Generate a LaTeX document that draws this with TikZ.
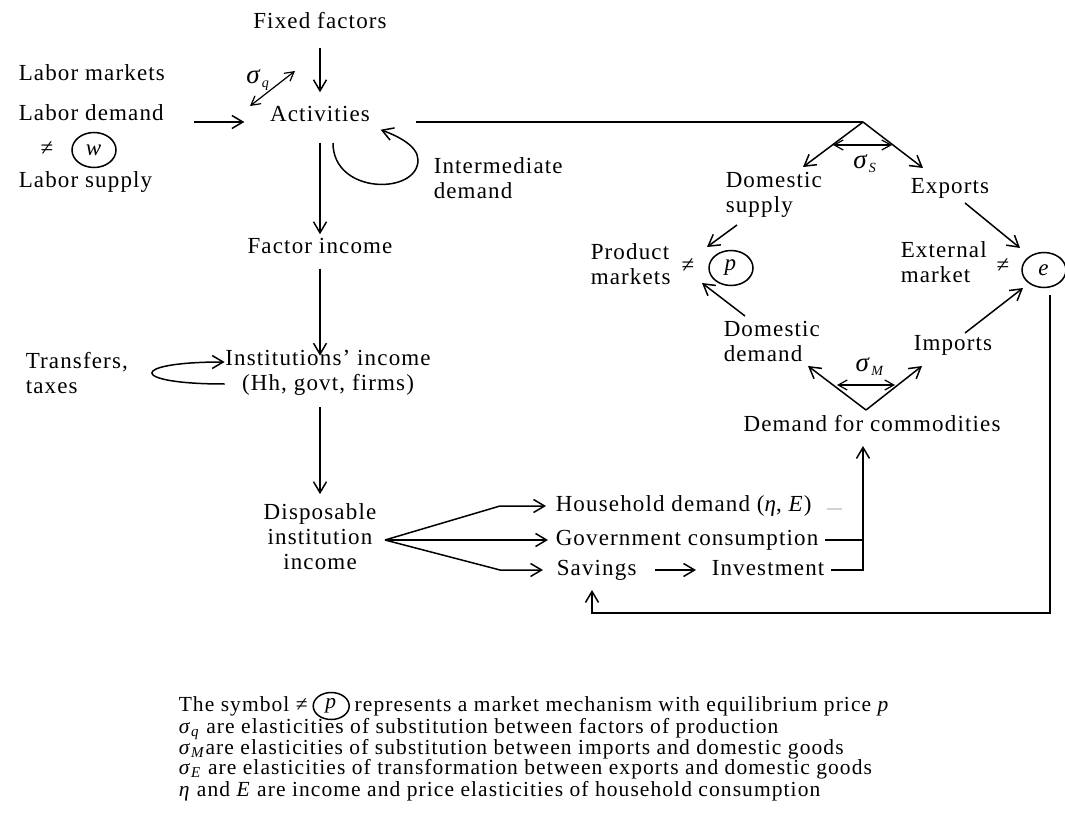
\documentclass[tikz,border=0pt]{standalone}
\usepackage{fontspec}
\setmainfont{Liberation Serif}[LetterSpace=5]
\usetikzlibrary{arrows.meta,positioning,shapes.geometric}

\tikzset{
  lbl/.style={inner sep=0pt, font=\fontsize{23}{25}\selectfont, text height=15.5pt, text depth=4.5pt},
  blk/.style={inner sep=0pt, font=\fontsize{23}{25}\selectfont},
  leg/.style={inner sep=0pt, anchor=west, font=\fontsize{21.5}{21}\selectfont, text height=14pt, text depth=4pt},
  mkt/.style={draw, ellipse, inner sep=0pt, minimum width=44pt, minimum height=35pt, font=\fontsize{23}{25}\selectfont},
  arr/.style={-{Straight Barb[length=11pt,width=13pt]}},
  darr/.style={{Straight Barb[length=9pt,width=10pt]}-{Straight Barb[length=9pt,width=10pt]}}
}
\newcommand\sig{{\fontsize{27}{25}\selectfont\textit{σ}}}
\newcommand\sigsub[1]{\raisebox{-4pt}{\fontsize{14}{14}\selectfont\textit{#1}}}

\begin{document}
\begin{tikzpicture}[x=1pt,y=1pt,yscale=-1,line width=1.5pt]
\useasboundingbox (0,0) rectangle (1065,818);

% Text Node
\node (ff) at (320,23) [lbl] {Fixed factors};
% Text Node
\node (lm) at (18,75) [lbl,anchor=west] {Labor markets};
% Text Node
\node (ld) at (18,115) [lbl,anchor=west] {Labor demand};
% Text Node
\node (neqw) at (47,150) [lbl] {≠};
% Shape: Ellipse
\node (w) at (94,150) [mkt] {\textit{w}};
% Text Node
\node (ls) at (18,182) [lbl,anchor=west] {Labor supply};
% Text Node
\node (act) at (320,116) [lbl] {Activities};
% Text Node
\node (sigq) at (258,78) [lbl] {\sig\sigsub{q}};
% Text Node
\node (interm) at (433,178) [blk,anchor=west,align=left] {Intermediate\\demand};
% Text Node
\node (fi) at (320,248) [lbl] {Factor income};
% Text Node
\node (trans) at (25,373) [blk,anchor=west,align=left] {Transfers,\\taxes};
% Text Node
\node (inst) at (328,373) [blk,align=center] {Institutions’ income\\(Hh, govt, firms)};
% Text Node
\node (disp) at (320,537) [blk,align=center] {Disposable\\institution\\income};
% Text Node
\node (hh) at (555,506) [lbl,anchor=west] {Household demand (\textit{η}, \textit{E})};
% Text Node
\node (gov) at (555,540) [lbl,anchor=west] {Government consumption};
% Text Node
\node (sav) at (556,570) [lbl,anchor=west] {Savings};
% Text Node
\node (inv) at (711,570) [lbl,anchor=west] {Investment};
% Text Node
\node (dfc) at (872,426) [lbl] {Demand for commodities};
% Text Node
\node (dd) at (723,341) [blk,anchor=west,align=left] {Domestic\\demand};
% Text Node
\node (imp) at (913,345) [lbl,anchor=west] {Imports};
% Text Node
\node (sigM) at (870,366) [lbl] {\sig\sigsub{M}};
% Text Node
\node (pm) at (590,264) [blk,anchor=west,align=left] {Product\\markets};
% Text Node
\node (neqp) at (688,267) [lbl] {≠};
% Shape: Ellipse
\node (p) at (731,268) [mkt] {\textit{p}};
% Text Node
\node (ds) at (725,195) [blk,anchor=west,align=left] {Domestic\\supply};
% Text Node
\node (exp) at (910,188) [lbl,anchor=west] {Exports};
% Text Node
\node (sigS) at (865,163) [lbl] {\sig\sigsub{S}};
% Text Node
\node (em) at (900,262) [blk,anchor=west,align=left] {External\\market};
% Text Node
\node (neqe) at (1003,267) [lbl] {≠};
% Shape: Ellipse
\node (e) at (1044,270) [mkt] {\textit{e}};

% free ends of connectors
\coordinate (qa) at (250,106);
\coordinate (qb) at (295,71);
\coordinate (il) at (333,143);
\coordinate (apex) at (863,122);
\coordinate (dsin) at (803,167);
\coordinate (exin) at (923,168);
\coordinate (sl) at (833,145);
\coordinate (sr) at (892,145);
\coordinate (dsA) at (737,225);
\coordinate (dsB) at (707,247);
\coordinate (exA) at (965,203);
\coordinate (exB) at (1020,248);
\coordinate (ddA) at (745,316);
\coordinate (ddB) at (702,283);
\coordinate (imA) at (965,333);
\coordinate (imB) at (1023,288);
\coordinate (vtx) at (866,410);
\coordinate (vl) at (808,366);
\coordinate (vr) at (922,366);
\coordinate (ml) at (837,385);
\coordinate (mr) at (895,385);
\coordinate (fork) at (385,540);
\coordinate (hk) at (500,506);
\coordinate (sk) at (500,570);
\coordinate (uptip) at (863,446);
\coordinate (bl) at (592,613);
\coordinate (savin) at (592,590);

%Straight Lines
\draw[arr,shorten <=14pt,shorten >=13pt] (ff) -- (act);
\draw[arr] ([shift={(30,7)}]ld.east) -- ([shift={(-25,6)}]act.west);
\draw[darr,line width=1.2pt] (qa) -- (qb);
\draw[arr,shorten <=16pt,shorten >=3pt] (act) -- (fi);
%Curve Lines
\draw[arr] (il) .. controls (333,195) and (418,195) .. (418,160) .. controls (418,145) and (395,135) .. ([shift={(10,3)}]act.south east);
%Straight Lines
\draw ([shift={(45,6)}]act.east) -- (apex);
\draw[arr] (apex) -- (dsin);
\draw[arr] (apex) -- (exin);
\draw[darr,line width=1.2pt] (sl) -- (sr);
\draw[arr] (dsA) -- (dsB);
\draw[arr] (exA) -- (exB);
\draw[arr] (ddA) -- (ddB);
\draw[arr] (imA) -- (imB);
\draw[arr] (vtx) -- (vl);
\draw[arr] (vtx) -- (vr);
\draw[darr,line width=1.2pt] (ml) -- (mr);
\draw[arr,shorten <=10pt,shorten >=-6pt] (fi.south) -- (fi.south |- inst.north);
\draw[arr,shorten <=11pt,shorten >=9pt] (fi.south |- inst.south) -- (fi.south |- disp.north);
%Curve Lines
\draw[arr] ([yshift=11pt]inst.west) .. controls (128,384) and (128,362) .. ([yshift=-11pt]inst.west);
%Straight Lines
\draw[arr,shorten >=9pt] (fork) -- (hk) -- (hh.west);
\draw[arr,shorten >=7pt] (fork) -- (gov.west);
\draw[arr,shorten >=13pt] (fork) -- (sk) -- (sav.west);
\draw[arr,shorten <=18pt,shorten >=15pt] (sav.east) -- (inv.west);
\draw[gray!35] ([shift={(15,3)}]hh.east) -- ++(15,0);
\draw ([xshift=6pt]gov.east) -- (gov.east -| uptip);
\draw[arr] ([xshift=6pt]inv.east) -| (uptip);
\draw[arr] ([shift={(6,7)}]e.south) |- (bl) -- (savin);

% Text Node
\node (leg1a) at (178,706) [leg] {The symbol ≠};
\node (leg1p) [mkt,right=4pt of leg1a,minimum width=36pt,minimum height=27pt,font=\fontsize{21.5}{21}\selectfont] {\textit{p}};
\node (leg1b) [leg,right=4pt of leg1p] {represents a market mechanism with equilibrium price \textit{p}};
% Text Node
\node (leg2) at (178,728) [leg] {\textit{σ}\textsubscript{\textit{q}} are elasticities of substitution between factors of production};
% Text Node
\node (leg3) at (178,749) [leg] {\textit{σ}\textsubscript{\textit{M}}are elasticities of substitution between imports and domestic goods};
% Text Node
\node (leg4) at (178,769) [leg] {\textit{σ}\textsubscript{\textit{E}} are elasticities of transformation between exports and domestic goods};
% Text Node
\node (leg5) at (178,791) [leg] {\textit{η} and \textit{E} are income and price elasticities of household consumption};

\end{tikzpicture}
\end{document}
